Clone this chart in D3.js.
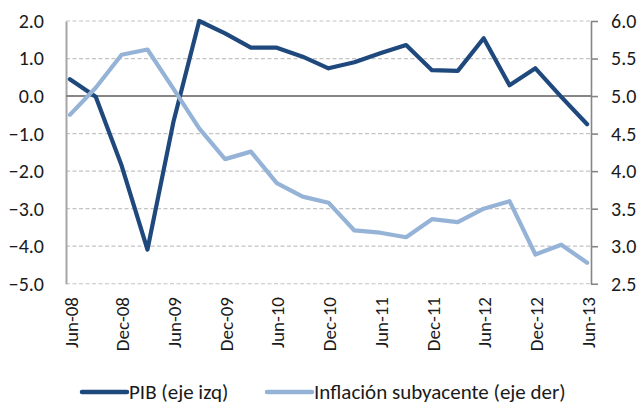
<!DOCTYPE html>
<html>
<head>
<meta charset="utf-8">
<script src="https://cdnjs.cloudflare.com/ajax/libs/d3/7.8.5/d3.min.js"></script>
<style>
  body { margin: 0; background: #fff; }
  text { font-family: Carlito, Lato, sans-serif; fill: #1a1a1a; }
</style>
</head>
<body>
<div id="chart"></div>
<script>
// data
var quarters = ['Jun-08', 'Sep-08', 'Dec-08', 'Mar-09', 'Jun-09', 'Sep-09', 'Dec-09', 'Mar-10',
    'Jun-10', 'Sep-10', 'Dec-10', 'Mar-11', 'Jun-11', 'Sep-11', 'Dec-11', 'Mar-12',
    'Jun-12', 'Sep-12', 'Dec-12', 'Mar-13', 'Jun-13']
var pib = [0.45, -0.02, -1.85, -4.09, -0.7, 2.0, 1.67, 1.29, 1.29, 1.05, 0.74,
    0.90, 1.14, 1.36, 0.69, 0.67, 1.54, 0.29, 0.74, -0.02, -0.75]
var inflacion = [4.75, 5.11, 5.55, 5.62, 5.1, 4.57, 4.16, 4.26, 3.84, 3.66, 3.58,
    3.21, 3.18, 3.12, 3.36, 3.32, 3.50, 3.60, 2.89, 3.02, 2.78]
var leftTicks = [-5, -4, -3, -2, -1, 0, 1, 2]
var rightTicks = [2.5, 3, 3.5, 4, 4.5, 5, 5.5, 6]
var xLabels = ['Jun-08', 'Dec-08', 'Jun-09', 'Dec-09', 'Jun-10', 'Dec-10', 'Jun-11',
    'Dec-11', 'Jun-12', 'Dec-12', 'Jun-13']
var series = [
    { name: 'PIB (eje izq)', color: '#1f497d' },
    { name: 'Inflación subyacente (eje der)', color: '#95b3d7' }
]

// svg dimensions
var w = 639,
    h = 404,
    pl = 66,
    pr = 591,
    pt = 21,
    pb = 283.75

var svg = d3.select('#chart')
    .append('svg')
    .attr('width', w)
    .attr('height', h)

// scales
var x = d3.scalePoint()
    .domain(quarters)
    .range([pl, pr])
    .padding(0.15)

var yl = d3.scaleLinear()
    .domain([-5, 2])
    .range([pb, pt])

var yr = d3.scaleLinear()
    .domain([2.5, 6])
    .range([pb, pt])

// gridlines
svg.append('g')
    .selectAll('line')
    .data(leftTicks.filter(d => d !== 0))
    .enter()
    .append('line')
    .attr('x1', pl)
    .attr('x2', pr)
    .attr('y1', d => yl(d))
    .attr('y2', d => yl(d))
    .attr('stroke', '#c4c4c4')
    .attr('stroke-width', 1.2)
    .attr('stroke-dasharray', '4,2.5')

// left axis
var leftAxis = svg.append('g')
    .attr('transform', `translate(${pl},0)`)
    .call(d3.axisLeft(yl).tickValues(leftTicks).tickSize(0).tickPadding(22).tickFormat(d3.format('.1f')))
leftAxis.select('.domain').attr('stroke', '#a6a6a6').attr('stroke-width', 2)

// right axis
var rightAxis = svg.append('g')
    .attr('transform', `translate(${pr},0)`)
    .call(d3.axisRight(yr).tickValues(rightTicks).tickSize(7).tickSizeOuter(0).tickPadding(13).tickFormat(d3.format('.1f')))
rightAxis.select('.domain').attr('stroke', '#868686').attr('stroke-width', 1.6)
rightAxis.selectAll('.tick line').attr('stroke', '#868686').attr('stroke-width', 1.6)

svg.selectAll('.tick text')
    .style('font-size', '20px')
    .attr('fill', '#1a1a1a')

// zero line (category axis)
svg.append('line')
    .attr('x1', pl)
    .attr('x2', pr)
    .attr('y1', yl(0))
    .attr('y2', yl(0))
    .attr('stroke', '#868686')
    .attr('stroke-width', 2)

// x labels
svg.append('g')
    .selectAll('text')
    .data(xLabels)
    .enter()
    .append('text')
    .attr('transform', d => `translate(${x(d) + 1},297) rotate(-90)`)
    .attr('text-anchor', 'end')
    .attr('dy', '0.35em')
    .style('font-size', '19px')
    .text(d => d)

// lines
var linePib = d3.line()
    .x((d, i) => x(quarters[i]))
    .y(d => yl(d))

var lineInf = d3.line()
    .x((d, i) => x(quarters[i]))
    .y(d => yr(d))

svg.append('path')
    .datum(pib)
    .attr('d', linePib)
    .attr('fill', 'none')
    .attr('stroke', series[0].color)
    .attr('stroke-width', 4.2)
    .attr('stroke-linejoin', 'round')
    .attr('stroke-linecap', 'round')

svg.append('path')
    .datum(inflacion)
    .attr('d', lineInf)
    .attr('fill', 'none')
    .attr('stroke', series[1].color)
    .attr('stroke-width', 4.2)
    .attr('stroke-linejoin', 'round')
    .attr('stroke-linecap', 'round')

// legend
var legendX = [82, 267]
var lg = svg.append('g')
    .selectAll('g')
    .data(series)
    .enter()
    .append('g')
    .attr('transform', (d, i) => `translate(${legendX[i]},392)`)

lg.append('line')
    .attr('x1', 0)
    .attr('x2', 45)
    .attr('stroke', d => d.color)
    .attr('stroke-width', 4.5)
    .attr('stroke-linecap', 'round')

lg.append('text')
    .attr('x', 47)
    .attr('dy', '0.35em')
    .style('font-size', '21px')
    .text(d => d.name)
</script>
</body>
</html>
